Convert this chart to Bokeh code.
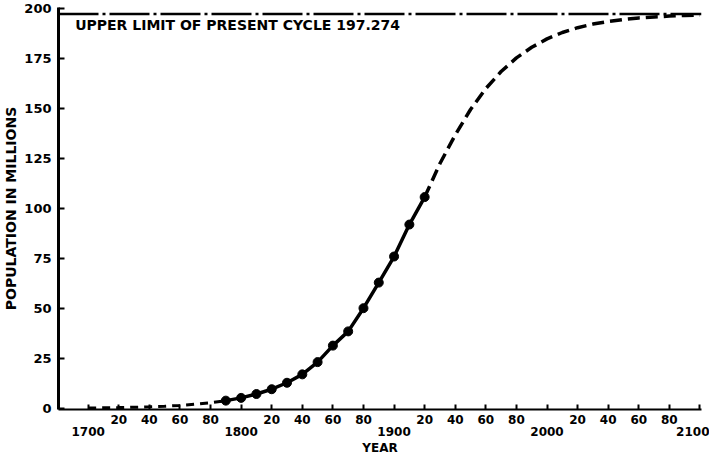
from bokeh.plotting import figure
from bokeh.models import LinearAxis, FixedTicker, Span, Label, Range1d, Title
from bokeh.embed import file_html
from bokeh.resources import INLINE

# Census observations (millions)
census_years = [1790, 1800, 1810, 1820, 1830, 1840, 1850, 1860, 1870, 1880, 1890, 1900, 1910, 1920]
census_pop = [3.93, 5.31, 7.24, 9.64, 12.87, 17.07, 23.19, 31.44, 38.56, 50.16, 62.95, 75.99, 91.97, 105.71]

# Curve: before the census
early_years = [1700, 1710, 1720, 1730, 1740, 1750, 1760, 1770, 1780, 1790]
early_pop = [0.24, 0.33, 0.45, 0.61, 0.84, 1.14, 1.56, 2.12, 2.89, 3.93]

# Curve: projection
future_years = [1920, 1930, 1940, 1950, 1960, 1970, 1980, 1990, 2000, 2010,
                2020, 2030, 2040, 2050, 2060, 2070, 2080, 2090, 2100]
future_pop = [105.71, 122.5, 136.8, 149.5, 160.0, 168.5, 175.3, 180.6, 184.8, 188.0,
              190.4, 192.2, 193.5, 194.5, 195.3, 195.8, 196.2, 196.5, 196.7]

upper_limit = 197.274
limit_text = "UPPER LIMIT OF PRESENT CYCLE 197.274"
x_title = "YEAR"

y_ticks = [0, 25, 50, 75, 100, 125, 150, 175, 200]
x_ticks = list(range(1700, 2101, 20))
century_ticks = [1700, 1800, 1900, 2000, 2100]
minor_labels = {t: ("" if t % 100 == 0 else str(t % 100)) for t in x_ticks}
century_labels = {t: str(t) for t in century_ticks}

FONT = "DejaVu Sans"

p = figure(width=709, height=454, output_backend="svg", toolbar_location=None,
           x_axis_type=None, y_axis_type=None,
           x_range=Range1d(1680.6, 2101), y_range=Range1d(-0.5, 200.5),
           min_border_left=50, min_border_right=8, min_border_top=7, min_border_bottom=0)
p.outline_line_color = None
p.background_fill_color = "white"

yax = LinearAxis(ticker=FixedTicker(ticks=y_ticks),
                 axis_label="POPULATION IN MILLIONS",
                 axis_label_text_font=FONT, axis_label_text_font_style="bold",
                 axis_label_text_font_size="14px", axis_label_standoff=2,
                 axis_label_text_color="black",
                 major_label_text_font=FONT, major_label_text_font_style="bold",
                 major_label_text_font_size="13px", major_label_text_color="black",
                 major_label_standoff=7,
                 axis_line_width=3, axis_line_color="black",
                 major_tick_in=6, major_tick_out=0, major_tick_line_width=2,
                 minor_tick_line_color=None, minor_tick_in=0, minor_tick_out=0)
p.add_layout(yax, "left")

xax1 = LinearAxis(ticker=FixedTicker(ticks=x_ticks),
                  major_label_overrides=minor_labels,
                  major_label_text_font=FONT, major_label_text_font_style="bold",
                  major_label_text_font_size="12px", major_label_text_color="black",
                  major_label_standoff=5,
                  axis_line_width=2, axis_line_color="black",
                  major_tick_in=5, major_tick_out=0, major_tick_line_width=2,
                  minor_tick_line_color=None, minor_tick_in=0, minor_tick_out=0)
p.add_layout(xax1, "below")

xax2 = LinearAxis(ticker=FixedTicker(ticks=century_ticks),
                  major_label_overrides=century_labels,
                  major_label_text_font=FONT, major_label_text_font_style="bold",
                  major_label_text_font_size="12px", major_label_text_color="black",
                  major_label_standoff=0,
                  axis_line_color=None, major_tick_line_color=None,
                  major_tick_in=0, major_tick_out=0,
                  minor_tick_line_color=None, minor_tick_in=0, minor_tick_out=0)
p.add_layout(xax2, "below")

p.add_layout(Title(text=x_title, align="center", offset=27, standoff=0,
                   text_font=FONT, text_font_style="bold", text_font_size="12px",
                   text_color="black"), "below")

p.add_layout(Span(location=upper_limit, dimension="width", line_color="black",
                  line_width=2.5, line_dash="40 4 3 4"))

p.line(early_years, early_pop, line_color="black", line_width=3, line_dash="8 6")
p.line(future_years, future_pop, line_color="black", line_width=3.5, line_dash="12 6")
p.line(census_years, census_pop, line_color="black", line_width=3.5)
p.scatter(census_years, census_pop, size=9, fill_color="black", line_color="black")

p.add_layout(Label(x=1691.5, y=192.0, text=limit_text, text_font=FONT,
                   text_font_style="bold", text_font_size="14px",
                   text_baseline="middle", text_color="black"))

open("out.html", "w").write(file_html(p, INLINE))
